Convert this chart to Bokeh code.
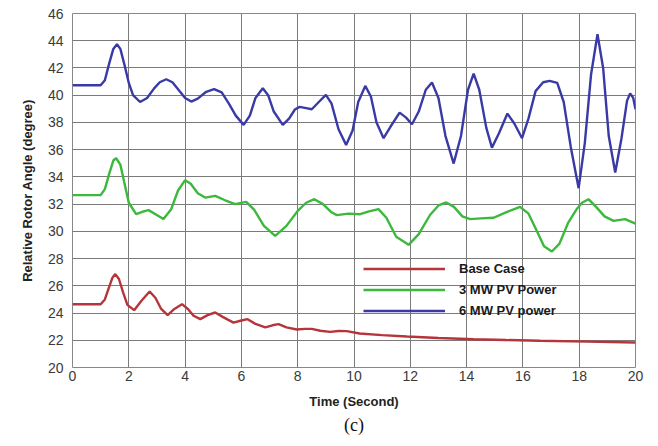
from bokeh.plotting import figure
from bokeh.models import Range1d, FixedTicker, Legend, LegendItem, Title
from bokeh.embed import file_html
from bokeh.resources import INLINE

# Time axis ticks and labels
x_ticks = [0, 2, 4, 6, 8, 10, 12, 14, 16, 18, 20]
y_ticks = [20, 22, 24, 26, 28, 30, 32, 34, 36, 38, 40, 42, 44, 46]

# Base Case (red)
t_base = [0, 1.0, 1.15, 1.3, 1.42, 1.52, 1.65, 1.8, 1.95, 2.19, 2.45, 2.74, 2.95, 3.15,
          3.38, 3.62, 3.89, 4.1, 4.3, 4.54, 4.8, 5.07, 5.35, 5.72, 6.0, 6.22, 6.5, 6.85,
          7.1, 7.32, 7.6, 7.97, 8.25, 8.5, 8.8, 9.15, 9.45, 9.74, 10.2, 11.0, 11.88,
          13.0, 14.25, 15.4, 16.6, 18.3, 20.0]
v_base = [24.65, 24.65, 25.0, 25.9, 26.6, 26.86, 26.5, 25.5, 24.6, 24.21, 24.9, 25.58, 25.1, 24.3,
          23.85, 24.3, 24.65, 24.3, 23.8, 23.55, 23.85, 24.04, 23.7, 23.3, 23.45, 23.55, 23.2, 22.94,
          23.1, 23.19, 22.95, 22.79, 22.84, 22.84, 22.7, 22.62, 22.68, 22.67, 22.5, 22.38, 22.28,
          22.17, 22.08, 22.02, 21.96, 21.9, 21.84]

# 3 MW PV Power (green)
t_3mw = [0, 1.0, 1.15, 1.3, 1.45, 1.55, 1.7, 1.85, 2.0, 2.26, 2.5, 2.7, 2.95, 3.23, 3.5,
         3.75, 4.0, 4.2, 4.45, 4.71, 5.07, 5.4, 5.78, 6.17, 6.45, 6.8, 7.2, 7.6, 8.0, 8.3,
         8.59, 8.9, 9.2, 9.39, 9.8, 10.22, 10.5, 10.87, 11.15, 11.5, 11.94, 12.3, 12.7,
         13.0, 13.28, 13.55, 13.85, 14.13, 14.5, 14.96, 15.4, 15.9, 16.2, 16.5, 16.75,
         17.03, 17.3, 17.6, 17.9, 18.1, 18.33, 18.6, 18.9, 19.22, 19.63, 20.0]
v_3mw = [32.66, 32.66, 33.1, 34.2, 35.2, 35.37, 34.9, 33.5, 32.1, 31.26, 31.45, 31.56, 31.25, 30.9, 31.6,
         33.0, 33.76, 33.5, 32.8, 32.48, 32.61, 32.3, 32.0, 32.17, 31.6, 30.4, 29.67, 30.4, 31.5, 32.1,
         32.36, 32.0, 31.4, 31.19, 31.3, 31.26, 31.45, 31.63, 31.0, 29.6, 29.01, 29.8, 31.2,
         31.9, 32.12, 31.8, 31.1, 30.9, 30.95, 31.0, 31.4, 31.8, 31.3, 30.0, 28.9,
         28.52, 29.1, 30.6, 31.6, 32.1, 32.36, 31.8, 31.1, 30.77, 30.9, 30.57]

# 6 MW PV power (blue)
t_6mw = [0, 1.0, 1.15, 1.3, 1.45, 1.58, 1.7, 1.85, 2.0, 2.15, 2.4, 2.65, 2.9, 3.1, 3.33,
         3.55, 3.8, 4.0, 4.22, 4.45, 4.75, 5.03, 5.3, 5.55, 5.8, 6.08, 6.3, 6.5, 6.76,
         6.95, 7.15, 7.47, 7.7, 7.9, 8.07, 8.3, 8.5, 8.75, 9.0, 9.2, 9.45, 9.72, 9.95,
         10.15, 10.4, 10.6, 10.8, 11.05, 11.3, 11.62, 11.85, 12.06, 12.3, 12.55, 12.77,
         13.0, 13.25, 13.54, 13.8, 14.05, 14.25, 14.45, 14.7, 14.9, 15.15, 15.45, 15.7,
         15.97, 16.2, 16.45, 16.72, 16.95, 17.22, 17.45, 17.7, 17.98, 18.2, 18.42, 18.65,
         18.85, 19.05, 19.28, 19.5, 19.7, 19.81, 19.92, 20.0]
v_6mw = [40.73, 40.73, 41.1, 42.3, 43.4, 43.74, 43.4, 42.2, 40.9, 40.0, 39.5, 39.8, 40.5, 40.95, 41.17,
         40.95, 40.3, 39.8, 39.53, 39.75, 40.25, 40.44, 40.2, 39.4, 38.5, 37.82, 38.5, 39.8, 40.51,
         40.0, 38.8, 37.82, 38.3, 38.95, 39.14, 39.05, 38.97, 39.5, 40.02, 39.4, 37.5, 36.35, 37.4,
         39.5, 40.68, 39.9, 38.0, 36.84, 37.7, 38.72, 38.35, 37.87, 38.8, 40.4, 40.93,
         39.8, 37.0, 34.98, 37.0, 40.4, 41.59, 40.4, 37.6, 36.15, 37.2, 38.65, 37.9,
         36.84, 38.3, 40.3, 40.95, 41.05, 40.9, 39.5, 36.2, 33.17, 36.5, 41.5, 44.48,
         42.0, 37.0, 34.32, 36.8, 39.6, 40.12, 39.8, 38.97]

labels = ["Base Case", "3 MW PV Power", "6 MW PV power"]
colors = ["#b5353a", "#3cb83c", "#3a3aa6"]

p = figure(width=658, height=446, output_backend="svg", toolbar_location=None,
           x_range=Range1d(0, 20), y_range=Range1d(20, 46),
           min_border_left=72, min_border_right=23, min_border_top=13, min_border_bottom=79)
p.background_fill_color = "white"
p.border_fill_color = "white"
p.outline_line_color = "#888888"
p.outline_line_width = 1

for ax in (p.xaxis[0], p.yaxis[0]):
    ax.major_tick_in = 0
    ax.major_tick_out = 0
    ax.minor_tick_in = 0
    ax.minor_tick_out = 0
    ax.axis_line_color = None
    ax.major_label_text_font = "Liberation Sans"
    ax.major_label_text_font_size = "14px"
    ax.major_label_text_color = "#3a3a3a"
    ax.axis_label_text_font = "Liberation Sans"
    ax.axis_label_text_font_style = "bold"
    ax.axis_label_text_font_size = "13px"
    ax.axis_label_text_color = "#222222"

p.xaxis.ticker = FixedTicker(ticks=x_ticks)
p.yaxis.ticker = FixedTicker(ticks=y_ticks)
p.xaxis.axis_label = "Time (Second)"
p.yaxis.axis_label = "Relative Rotor Angle (degree)"
p.xaxis.major_label_standoff = 3
p.yaxis.major_label_standoff = 9
p.xaxis.axis_label_standoff = 10
p.yaxis.axis_label_standoff = 10

p.xgrid.ticker = FixedTicker(ticks=x_ticks)
p.ygrid.ticker = FixedTicker(ticks=y_ticks)
for g in (p.xgrid[0], p.ygrid[0]):
    g.grid_line_color = "#7a7a7a"
    g.grid_line_width = 1

r_base = p.line(t_base, v_base, line_color=colors[0], line_width=2.4)
r_3 = p.line(t_3mw, v_3mw, line_color=colors[1], line_width=2.4)
r_6 = p.line(t_6mw, v_6mw, line_color=colors[2], line_width=2.4)

legend = Legend(items=[LegendItem(label=labels[0], renderers=[r_base]),
                       LegendItem(label=labels[1], renderers=[r_3]),
                       LegendItem(label=labels[2], renderers=[r_6])],
                location=(291, 46), orientation="vertical")
legend.background_fill_alpha = 0
legend.border_line_color = None
legend.padding = 0
legend.margin = 0
legend.spacing = 0
legend.glyph_width = 82
legend.glyph_height = 21
legend.label_height = 21
legend.label_standoff = 14
legend.label_text_font = "Liberation Sans"
legend.label_text_font_style = "bold"
legend.label_text_font_size = "13px"
legend.label_text_color = "#1a1a1a"
p.add_layout(legend)

cap = Title(text="(c)", align="center", text_font="Liberation Serif",
            text_font_size="18px", text_font_style="normal", text_color="#111111",
            standoff=2)
p.add_layout(cap, "below")

open("out.html", "w").write(file_html(p, INLINE))
